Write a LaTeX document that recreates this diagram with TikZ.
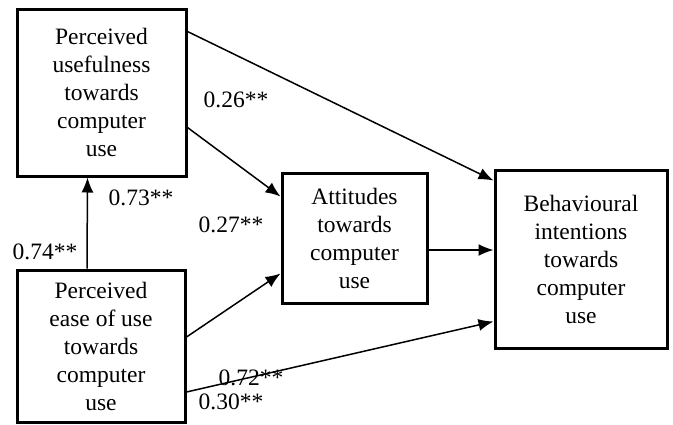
\documentclass[tikz,border=0pt]{standalone}
\usepackage{fontspec}
\setmainfont{Liberation Serif}
\usetikzlibrary{arrows.meta}

\begin{document}
\begin{tikzpicture}[x=1pt,y=-1pt]

    \tikzset{
      BoxStyle/.style = { rectangle, draw, line width=3pt, align=center,
                          inner sep=0pt, font=\fontsize{23.5}{28}\selectfont },
      EdgeStyle/.style = { line width=1.5pt, -{Latex[length=15pt,width=12pt]} },
      LabelStyle/.style = { inner sep=0pt, font=\fontsize{23.5}{28}\selectfont } }

      \useasboundingbox (0,0) rectangle (673,424);

      \node[BoxStyle, minimum width=169pt, minimum height=167pt] (pu) at (101.5, 92.5)
        {Perceived\\usefulness\\towards\\computer\\use};
      \node[BoxStyle, minimum width=168pt, minimum height=152pt] (peou) at (101, 346)
        {Perceived\\ease of use\\towards\\computer\\use};
      \node[BoxStyle, minimum width=145pt, minimum height=130pt] (att) at (354.5, 238)
        {Attitudes\\towards\\computer\\use};
      \node[BoxStyle, minimum width=172pt, minimum height=178pt] (bi) at (581, 259)
        {Behavioural\\intentions\\towards\\computer\\use};

      % paths
      \draw[EdgeStyle] ([yshift=-24pt]pu.north east) -- ([yshift=-12pt]bi.north west);
      \draw[EdgeStyle] ([yshift=-35pt]pu.east) -- ([yshift=-25pt]att.north west);
      \draw[EdgeStyle] ([xshift=-14pt]peou.north) -- ([xshift=-14pt]pu.south);
      \draw[EdgeStyle] ([yshift=9pt]peou.east) -- ([yshift=31pt]att.south west);
      \draw[EdgeStyle] ([yshift=-46pt]peou.east) -- ([yshift=28pt]bi.south west);
      \draw[EdgeStyle] ([yshift=-12pt]att.east) -- ([yshift=-12pt]att.east -| bi.west);

      % coefficients
      \node[LabelStyle] (l26) at (236,100) {0.26**};
      \node[LabelStyle] (l73) at (141,198) {0.73**};
      \node[LabelStyle] (l27) at (231,225) {0.27**};
      \node[LabelStyle] (l74) at (45,252) {0.74**};
      \node[LabelStyle] (l72) at (251,378) {0.72**};
      \node[LabelStyle] (l30) at (231,402) {0.30**};
    \end{tikzpicture}
\end{document}
